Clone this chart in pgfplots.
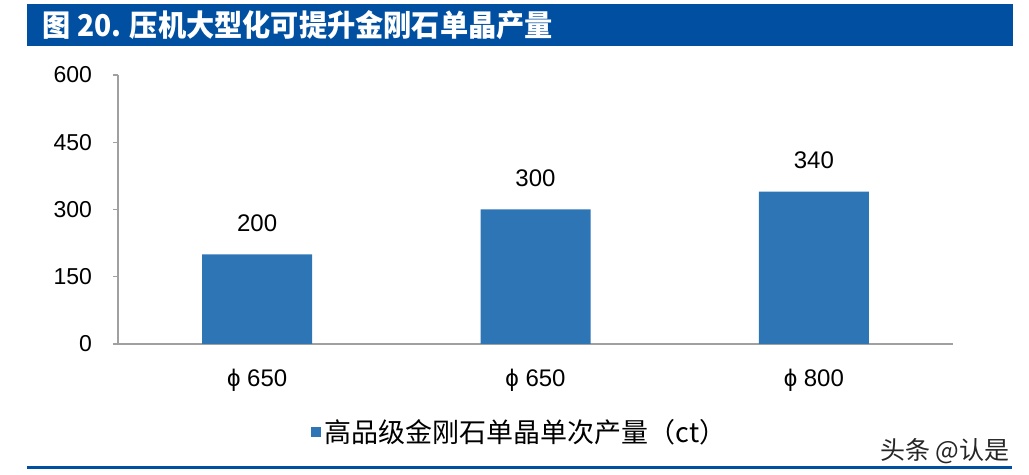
\documentclass[border=0pt]{standalone}
\usepackage{pgfplots}
\pgfplotsset{compat=1.18}
\usepackage{fontspec}
\setmainfont{Liberation Sans}
\newfontfamily\cjk{Noto Sans CJK SC}
\definecolor{titleblue}{RGB}{0,79,160}
\definecolor{barblue}{RGB}{46,117,182}
\definecolor{axgray}{RGB}{160,160,160}
\begin{document}
\begin{tikzpicture}[x=0.5pt,y=0.5pt]
\useasboundingbox (0,0) rectangle (1029,475);
% title bar
\fill[titleblue] (27,475-4) rectangle (1013,475-46);
\node[anchor=west,text=white,inner sep=0pt,font=\cjk\bfseries\fontsize{15}{17}\selectfont] at (42,475-25) {\scalebox{0.94}[1]{图 20. 压机大型化可提升金刚石单晶产量}};
% bottom rule
\draw[titleblue,line width=1.5pt] (27,475-468) -- (1012,475-468);
% watermark
\node[anchor=center,inner sep=0pt,text=black!85,font=\cjk\fontsize{12.5}{14}\selectfont] at (945,475-451) {头条 @认是};
\begin{axis}[
  at={(59pt,65.5pt)}, anchor=south west,
  scale only axis, width=417.5pt, height=134.5pt,
  xmin=-0.5, xmax=2.5, ymin=0, ymax=600,
  axis x line*=bottom, axis y line*=left,
  axis line style={axgray, line width=0.6pt},
  x axis line style={-}, y axis line style={-},
  xtick={0,1,2}, xticklabels={ϕ 650, ϕ 650, ϕ 800},
  ytick={0,150,300,450,600},
  xtick style={draw=none},
  ytick style={axgray, line width=0.6pt},
  major tick length=2.5pt,
  tick align=outside,
  /pgf/number format/assume math mode=true,
  xticklabel style={font=\fontsize{12}{14}\selectfont, yshift=-6.5pt},
  yticklabel style={font=\fontsize{11.5}{13}\selectfont, xshift=-7pt},
  ybar, bar width=55pt, bar shift=0pt,
  nodes near coords,
  every node near coord/.append style={font=\fontsize{12}{14}\selectfont, anchor=center, yshift=15.5pt},
  legend style={at={(0.482,-0.327)}, anchor=center, draw=none, fill=none,
    font=\cjk\fontsize{13.5}{15}\selectfont, inner sep=0pt},
  legend image code/.code={\fill[barblue] (0pt,-2.5pt) rectangle (5pt,2.5pt);},
  clip=false,
]
\addplot[fill=barblue, draw=none] coordinates {(0,200) (1,300) (2,340)};
\addlegendentry{高品级金刚石单晶单次产量（ct）}
\end{axis}
\end{tikzpicture}
\end{document}
